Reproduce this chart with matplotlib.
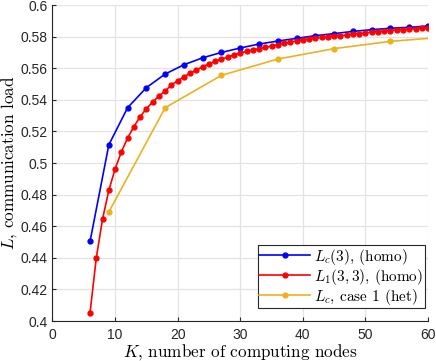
import matplotlib
matplotlib.use("Agg")
import matplotlib.pyplot as plt
import numpy as np

# L_c(3), homogeneous
k_blue = [6, 9, 12, 15, 18, 21, 24, 27, 30, 33, 36, 39, 42, 45, 48, 51, 54, 57, 60]
l_blue = [0.4504, 0.5115, 0.5350, 0.5477, 0.5563, 0.5622, 0.5666, 0.5700, 0.5728,
          0.5753, 0.5772, 0.5789, 0.5806, 0.5819, 0.5833, 0.5844, 0.5853, 0.5859, 0.5867]

# L_1(3,3), homogeneous
k_red = list(range(6, 61))
l_red = [0.4053, 0.4400, 0.4646, 0.4827, 0.4962, 0.5070, 0.5158, 0.5230, 0.5293, 0.5344,
         0.5386, 0.5423, 0.5456, 0.5494, 0.5520, 0.5546, 0.5568, 0.5589, 0.5610, 0.5627,
         0.5644, 0.5657, 0.5670, 0.5685, 0.5696, 0.5707, 0.5715, 0.5724, 0.5732, 0.5740,
         0.5749, 0.5757, 0.5766, 0.5772, 0.5778, 0.5785, 0.5791, 0.5795, 0.5800, 0.5802,
         0.5806, 0.5810, 0.5815, 0.5819, 0.5823, 0.5828, 0.5832, 0.5835, 0.5838, 0.5842,
         0.5844, 0.5848, 0.5850, 0.5853, 0.5854]

# L_c, case 1 (het)
k_yel = [9, 18, 27, 36, 45, 54, 63]
l_yel = [0.4690, 0.5350, 0.5555, 0.5658, 0.5724, 0.5770, 0.5798]

labels = [r'$L_c(3)$, (homo)', r'$L_1(3,3)$, (homo)', r'$L_c$, case 1 (het)']

plt.rcParams['mathtext.fontset'] = 'cm'
plt.rcParams['font.family'] = ['Liberation Sans', 'DejaVu Sans']

fig = plt.figure(figsize=(4.36, 3.61), dpi=100)
ax = fig.add_axes([0.1204, 0.1108, 0.8613, 0.8753])

ax.plot(k_blue, l_blue, '-o', color=(0, 0, 1), lw=1.2, ms=3.5, label=labels[0])
ax.plot(k_red, l_red, '-o', color=(1, 0, 0), lw=1.2, ms=3.5, label=labels[1])
ax.plot(k_yel, l_yel, '-o', color=(0.929, 0.694, 0.125), lw=1.2, ms=3.5, label=labels[2])

ax.set_xlim(0, 60)
ax.set_ylim(0.4, 0.6)
ax.set_xticks(np.arange(0, 61, 10))
ax.set_yticks(np.arange(0.4, 0.6001, 0.02))
ax.set_yticklabels(['0.4', '0.42', '0.44', '0.46', '0.48', '0.5', '0.52', '0.54', '0.56', '0.58', '0.6'])
ax.grid(True, color='#e3e3e3', lw=0.9)
ax.set_axisbelow(True)
for s in ['top', 'right']:
    ax.spines[s].set_visible(False)
for s in ['left', 'bottom']:
    ax.spines[s].set_color('#262626')
    ax.spines[s].set_linewidth(0.8)
ax.tick_params(direction='in', length=3, width=0.8, colors='#262626', labelsize=10)
ax.tick_params(axis='x', pad=5)

ax.set_xlabel(r'$K$, number of computing nodes', fontsize=12.3, family='cmr10', labelpad=0)
ax.set_ylabel(r'$L$, communication load', fontsize=12.3, family='cmr10', labelpad=1)

leg = ax.legend(loc='lower right', bbox_to_anchor=(0.992, 0.041), borderaxespad=0,
                prop={'family': 'cmr10', 'size': 11}, fancybox=False,
                framealpha=1, edgecolor='#262626', handlelength=3.3,
                borderpad=0.1, labelspacing=0.0, handletextpad=0.3)
leg.get_frame().set_linewidth(0.8)

fig.savefig('out.png', dpi=100)
